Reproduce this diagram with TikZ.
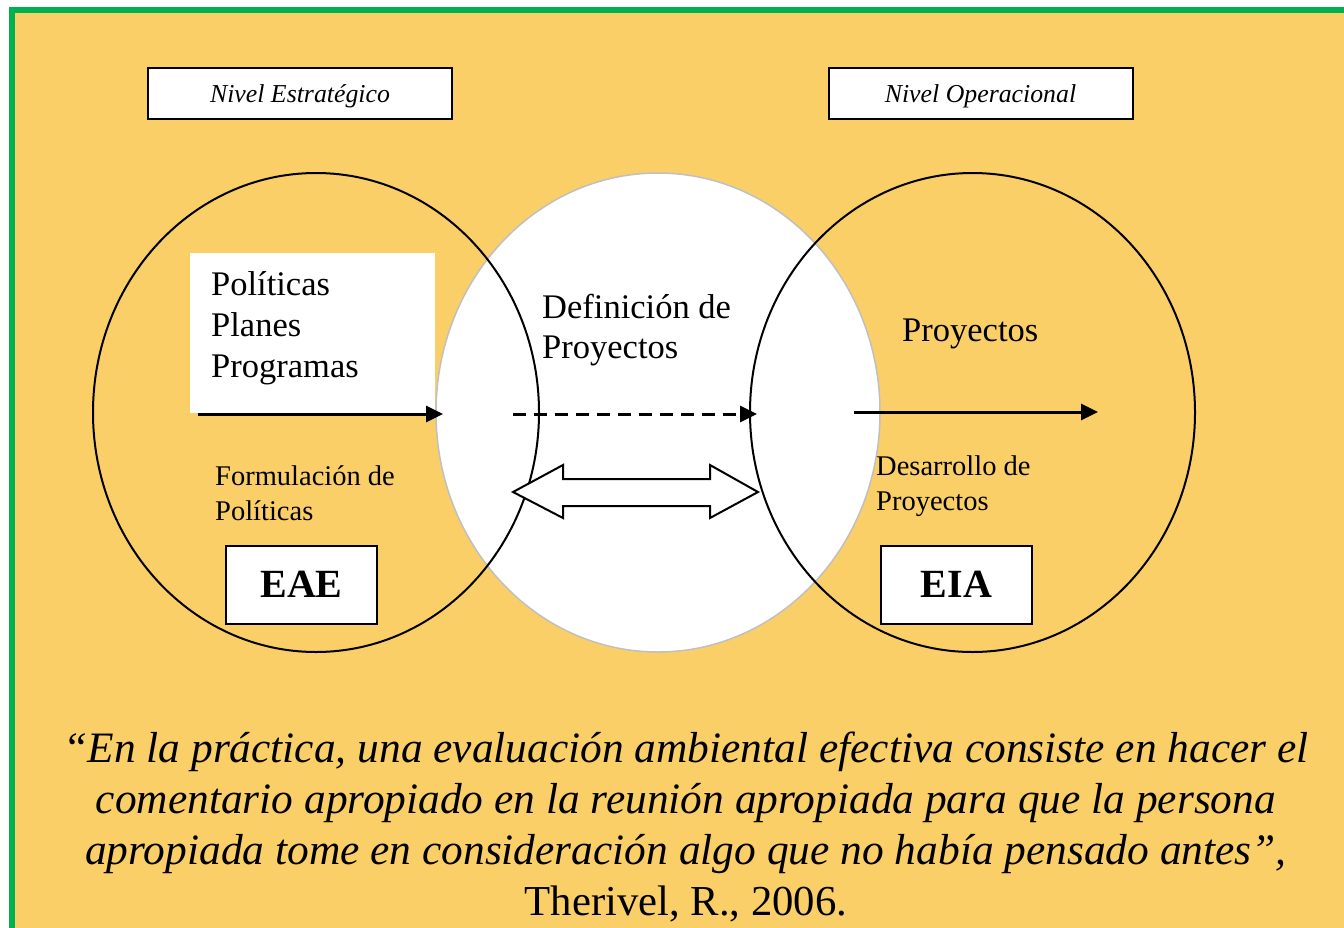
\documentclass[tikz,border=0pt]{standalone}
\usepackage{fontspec}
\setmainfont{Liberation Serif}
\usetikzlibrary{arrows.meta}
\definecolor{bgyellow}{RGB}{250,207,104}
\definecolor{framegreen}{RGB}{0,176,80}
\definecolor{ringgray}{RGB}{192,192,192}
\begin{document}
\begin{tikzpicture}[x=1pt,y=-1pt,
  levelbox/.style={draw, line width=2pt, fill=white, inner sep=0pt, minimum width=304pt, minimum height=51pt,
    font=\fontsize{25.8}{30}\selectfont\itshape, text height=22pt, text depth=5pt},
  evalbox/.style={draw, line width=2pt, fill=white, inner sep=0pt, minimum width=151pt, minimum height=78pt,
    font=\fontsize{40}{46}\selectfont\bfseries, text height=28pt, text depth=4pt},
  bigtxt/.style={inner sep=0pt, anchor=base west, font=\fontsize{34.5}{41}\selectfont},
  smalltxt/.style={inner sep=0pt, anchor=base west, font=\fontsize{28.5}{35}\selectfont},
  quotetxt/.style={inner sep=0pt, anchor=base, font=\fontsize{43.4}{51}\selectfont\itshape},
  citetxt/.style={inner sep=0pt, anchor=base, font=\fontsize{42.7}{51}\selectfont},
  ring/.style={draw=black, line width=2pt},
  arr/.style={line width=3pt, -{Triangle[length=17pt,width=16pt]}},
  dasharr/.style={line width=3pt, dash pattern=on 13pt off 8pt, -{Triangle[length=17pt,width=16pt]}}
]
\useasboundingbox (0,0) rectangle (1344,927);
\clip (0,0) rectangle (1344,927);
\fill[white] (0,0) rectangle (1344,927);
\draw[framegreen, line width=6pt, fill=bgyellow] (12,10) rectangle (1400,990);

% level boxes
\node[levelbox] (estr) at (300,93.5) {Nivel Estratégico};
\node[levelbox] (oper) at (980.5,93.5) {Nivel Operacional};

% circles
\draw[ringgray, line width=1.5pt, fill=white] (658,412.5) ellipse [x radius=222pt, y radius=239.5pt];
\draw[ring] (316,412.5) ellipse [x radius=223pt, y radius=239.5pt];
\draw[ring] (972.5,412.5) ellipse [x radius=222.5pt, y radius=239.5pt];

% white box behind Politicas
\node[fill=white, inner sep=0pt, minimum width=245pt, minimum height=160pt, anchor=north west] (polbox) at (190,253) {};

% texts
\node[bigtxt] (pol) at (211,295) {Políticas};
\node[bigtxt] (pla) at (211,336) {Planes};
\node[bigtxt] (pro) at (211,377) {Programas};
\node[bigtxt] (def1) at (542,318) {Definición de};
\node[bigtxt] (def2) at (542,358) {Proyectos};
\node[bigtxt] (proy) at (902,341) {Proyectos};
\node[smalltxt] (for1) at (215,485) {Formulación de};
\node[smalltxt] (for2) at (215,520) {Políticas};
\node[smalltxt] (des1) at (876,475) {Desarrollo de};
\node[smalltxt] (des2) at (876,510) {Proyectos};

% arrows
\coordinate (a1s) at (198,414);
\coordinate (a1e) at (443,414);
\coordinate (a2s) at (513,414);
\coordinate (a2e) at (757,414);
\coordinate (a3s) at (854,412);
\coordinate (a3e) at (1098,412);
\draw[arr] (a1s) -- (a1e);
\draw[dasharr] (a2s) -- (a2e);
\draw[arr] (a3s) -- (a3e);

% double block arrow
\draw[line width=2pt, fill=white, line join=miter]
  (513,492) -- (563,465) -- (563,479) -- (710,479) -- (710,465) -- (758,492)
  -- (710,518) -- (710,506) -- (563,506) -- (563,518) -- cycle;

% evaluation boxes
\node[evalbox] (eae) at (301.5,585) {EAE};
\node[evalbox] (eia) at (956.5,585) {EIA};

% quote
\node[quotetxt] (q1) at (686,762) {“En la práctica, una evaluación ambiental efectiva consiste en hacer el};
\node[quotetxt] (q2) at (686,813) {comentario apropiado en la reunión apropiada para que la persona};
\node[quotetxt] (q3) at (686,864) {apropiada tome en consideración algo que no había pensado antes”,};
\node[citetxt] (q4) at (686,915) {Therivel, R., 2006.};
\end{tikzpicture}
\end{document}
